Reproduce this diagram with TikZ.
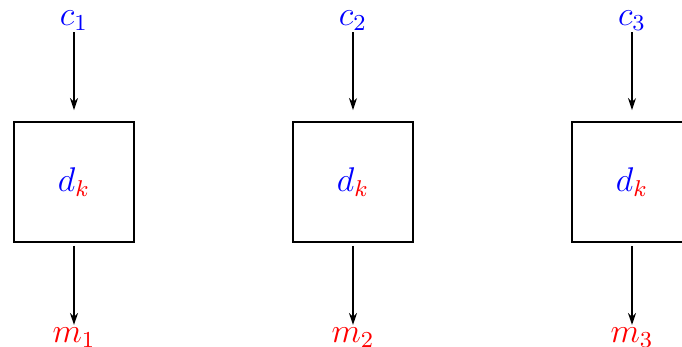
\documentclass[tikz,border=0pt]{standalone}
\usetikzlibrary{arrows.meta}
\begin{document}
\begin{tikzpicture}[x=0.35pt,y=-0.35pt,
  dbox/.style={draw,line width=0.75pt,minimum width=42pt,minimum height=42pt,inner sep=0pt},
  lab/.style={inner sep=0.6pt,font=\large},
  conn/.style={line width=0.6pt,-{Stealth[length=4.2pt,width=2.8pt]}}]
\useasboundingbox (0,0) rectangle (682,346);
\clip (0,0) rectangle (682,346);
\foreach \i/\x in {1/74,2/353,3/632}{
  \node[lab,anchor=base] (c\i) at (\x,25) {$\color{blue}c_{\i}$};
  \node[dbox,font=\large] (b\i) at (\x,182) {$\color{blue}d_{\color{red}k}$};
  \node[lab,anchor=base] (m\i) at (\x,342) {$\color{red}m_{\i}$};
  \draw[conn,shorten >=3.8pt] (c\i) -- (b\i);
  \draw[conn,shorten <=1pt] (b\i) -- (m\i);
}
\end{tikzpicture}
\end{document}
